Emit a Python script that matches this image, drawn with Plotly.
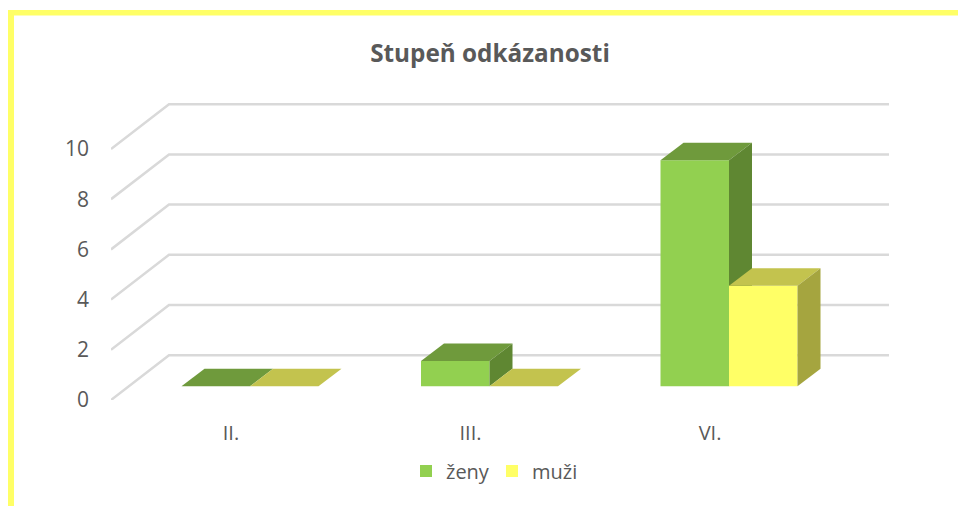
import plotly.graph_objects as go

categories = ["II.", "III.", "VI."]
zeny = [0, 1, 9]
muzi = [0, 0, 4]
y_ticks = [0, 2, 4, 6, 8, 10]
title_text = "Stupeň odkázanosti"

TXT = "#595959"
FONT = "Open Sans"
W, H = 958, 506
ML, MR, MT, MB = 111, 69, 100, 106
PX_X = 239.5   # px per category
PX_Y = 25.1    # px per value unit
x_range = [-(250 - ML) / PX_X, (W - MR - 250) / PX_X]
y_range = [0, (H - MT - MB) / PX_Y]
BAR_W = 68.5 / PX_X
BASE = 13.8 / PX_Y
DX, DY = 23 / PX_X, 17.5 / PX_Y
WALL_DX, WALL_DY = 58 / PX_X, 44.8 / PX_Y
LABEL_SHIFT = 19 / PX_X
positions = list(range(len(categories)))

fig = go.Figure()

# back wall and side wall gridlines
gx, gy = [], []
for v in y_ticks:
    gx += [x_range[0], x_range[0] + WALL_DX, x_range[1], None]
    gy += [v, v + WALL_DY, v + WALL_DY, None]
fig.add_trace(go.Scatter(x=gx, y=gy, mode="lines", showlegend=False, hoverinfo="skip",
                         line=dict(color="#d9d9d9", width=2.5), xaxis="x", yaxis="y"))


def add_series(name, values, offset, front, top, side, xa, ya):
    fig.add_trace(go.Bar(name=name, x=positions, y=values, base=BASE, width=BAR_W, offset=offset,
                         marker=dict(color=front, line=dict(width=0)), xaxis=xa, yaxis=ya))
    for p, v in zip(positions, values):
        l = p + offset
        r = l + BAR_W
        t = BASE + v
        b = BASE
        fig.add_trace(go.Scatter(x=[l, r, r + DX, l + DX, l], y=[t, t, t + DY, t + DY, t],
                                 mode="lines", fill="toself", fillcolor=top, line=dict(width=0),
                                 showlegend=False, hoverinfo="skip", xaxis=xa, yaxis=ya))
        if v > 0:
            fig.add_trace(go.Scatter(x=[r, r + DX, r + DX, r, r], y=[t, t + DY, b + DY, b, t],
                                     mode="lines", fill="toself", fillcolor=side, line=dict(width=0),
                                     showlegend=False, hoverinfo="skip", xaxis=xa, yaxis=ya))


add_series("ženy", zeny, -BAR_W, "#92D050", "#6F9A3C", "#5F8732", "x2", "y2")
add_series("muži", muzi, 0, "#FFFF66", "#C3C34E", "#A5A53F", "x3", "y3")

hidden_x = dict(range=x_range, visible=False, overlaying="x", fixedrange=True, automargin=False)
hidden_y = dict(range=y_range, visible=False, fixedrange=True, automargin=False)


def px(x):
    return (x - ML) / (W - ML - MR)


def py(y):
    return (H - MB - y) / (H - MT - MB)


frame = [
    dict(x0=px(8), x1=px(14), y0=py(10), y1=py(H)),
    dict(x0=px(8), x1=px(W), y0=py(10), y1=py(15.5)),
]

fig.update_layout(
    width=W, height=H,
    margin=dict(l=ML, r=MR, t=MT, b=MB, pad=0),
    paper_bgcolor="white", plot_bgcolor="white",
    barmode="overlay",
    title=dict(text=f"<b>{title_text}</b>", x=490 / W, xanchor="center", y=1 - 53 / H, yanchor="middle",
               font=dict(family=FONT, size=24.3, color=TXT)),
    font=dict(family=FONT, size=20, color=TXT),
    xaxis=dict(range=x_range, tickmode="array", automargin=False,
               tickvals=[p - LABEL_SHIFT for p in positions], ticktext=categories,
               showgrid=False, zeroline=False, showline=False, ticks="", ticklabelstandoff=19,
               tickfont=dict(family=FONT, size=20, color=TXT), fixedrange=True),
    yaxis=dict(range=y_range, tickmode="array", tickvals=y_ticks, automargin=False,
               showgrid=False, zeroline=False, showline=False, ticks="", ticklabelstandoff=21,
               tickfont=dict(family=FONT, size=21, color=TXT), fixedrange=True),
    xaxis2=dict(hidden_x, anchor="y2"),
    yaxis2=dict(hidden_y, overlaying="y", anchor="x2"),
    xaxis3=dict(hidden_x, anchor="y3"),
    yaxis3=dict(hidden_y, overlaying="y", anchor="x3"),
    legend=dict(orientation="h", xref="container", yref="container",
                x=406 / W, xanchor="left", y=1 - 471 / H, yanchor="middle",
                entrywidth=41, entrywidthmode="pixels",
                font=dict(family=FONT, size=20, color=TXT), bgcolor="rgba(0,0,0,0)",
                traceorder="normal"),
    shapes=[dict(type="rect", xref="paper", yref="paper", fillcolor="#FFFF66",
                 line=dict(width=0), layer="below", **f) for f in frame],
)

fig.write_html("out.html", config={"displayModeBar": False},
               post_script="document.body.style.margin='0';document.body.style.overflow='hidden';")
